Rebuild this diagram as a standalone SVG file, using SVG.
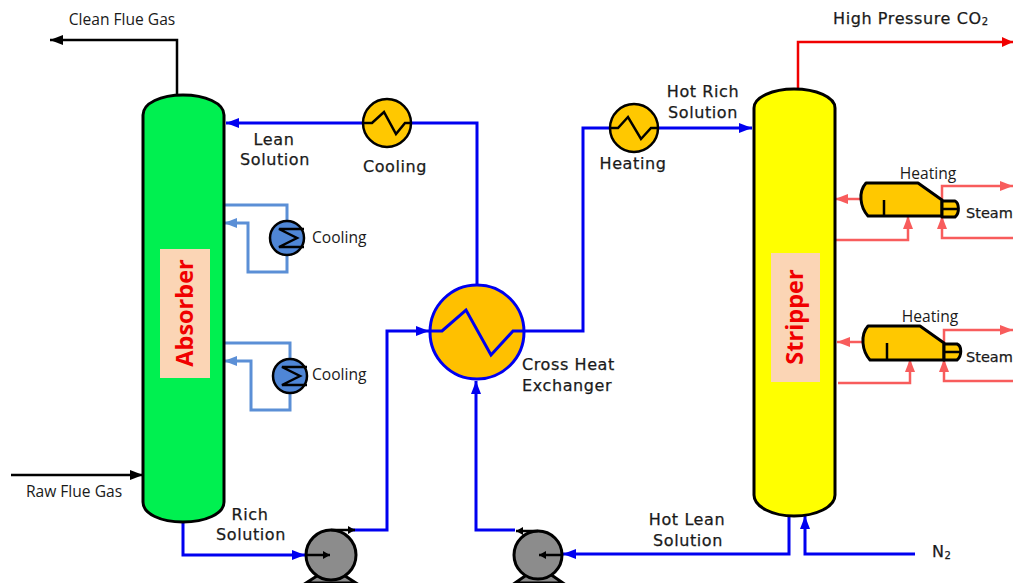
<svg xmlns="http://www.w3.org/2000/svg" width="1013" height="583" viewBox="0 0 1013 583">
<style>
text{font-family:"DejaVu Sans",Verdana,sans-serif;fill:#1a1a1a;font-size:16px;letter-spacing:.6px;stroke:#1a1a1a;stroke-width:.25}
.c{text-anchor:middle}
.k{fill:none;stroke:#000;stroke-width:2.5}
.b{fill:none;stroke:#0000f0;stroke-width:3}
.l{fill:none;stroke:#5b8fd6;stroke-width:3}
.p{fill:none;stroke:#f85c5c;stroke-width:2.5}
.r{fill:none;stroke:#f00000;stroke-width:2.5}
.tow{stroke:#000;stroke-width:3}
.sm{font-family:"Open Sans",sans-serif;font-size:15.6px;letter-spacing:0;stroke-width:0}
.st{font-size:14.5px;letter-spacing:0}
.lab{font-family:"Open Sans",sans-serif;font-size:23.5px;font-weight:700;letter-spacing:0;fill:#f00000;stroke-width:0}
.pump{fill:#8c8c8c;stroke:#000;stroke-width:3}
.boil{fill:#ffc800;stroke:#000;stroke-width:3;stroke-linejoin:round}
.cool{fill:#4f86d6;stroke:#000;stroke-width:2.5}
</style>
<defs>
<marker id="ak" markerUnits="userSpaceOnUse" markerWidth="14" markerHeight="12" refX="13" refY="5" orient="auto"><path d="M0 0L13 5L0 10Z" fill="#000"/></marker>
<marker id="as" markerUnits="userSpaceOnUse" markerWidth="8" markerHeight="8" refX="7" refY="4" orient="auto"><path d="M0 0L7 4L0 8Z" fill="#000"/></marker>
<marker id="ab" markerUnits="userSpaceOnUse" markerWidth="14" markerHeight="12" refX="13" refY="5" orient="auto"><path d="M0 0L13 5L0 10Z" fill="#0000f0"/></marker>
<marker id="al" markerUnits="userSpaceOnUse" markerWidth="14" markerHeight="12" refX="13" refY="5" orient="auto"><path d="M0 0L13 5L0 10Z" fill="#5b8fd6"/></marker>
<marker id="ap" markerUnits="userSpaceOnUse" markerWidth="14" markerHeight="12" refX="13" refY="5" orient="auto"><path d="M0 0L13 5L0 10Z" fill="#f85c5c"/></marker>
<marker id="ar" markerUnits="userSpaceOnUse" markerWidth="12" markerHeight="12" refX="11" refY="5" orient="auto"><path d="M0 0L11 5L0 10Z" fill="#f00000"/></marker>
</defs>
<rect width="1013" height="583" fill="#fff"/>
<g id="connectors">
<path class="k" d="M177 96V40H50" marker-end="url(#ak)"/>
<path class="k" d="M11 475H143" marker-end="url(#ak)"/>
<path class="b" d="M477 287V123H226" marker-end="url(#ab)"/>
<path class="b" d="M525 331H583V128H752" marker-end="url(#ab)"/>
<path class="b" d="M183 522V555H305" marker-end="url(#ab)"/>
<path class="b" d="M352 530H387V331H429" marker-end="url(#ab)"/>
<path class="b" d="M515 530H476V381" marker-end="url(#ab)"/>
<path class="b" d="M789 515V554H563" marker-end="url(#ab)"/>
<path class="b" d="M915 554H805V516" marker-end="url(#ab)"/>
<path class="r" d="M798 88V42H1013" marker-end="url(#ar)"/>
<path class="l" d="M224 205H287V222"/><path class="l" d="M287 255V272H248V223H224" marker-end="url(#al)"/>
<path class="l" d="M224 343H290V360"/><path class="l" d="M290 392V410H251V361H224" marker-end="url(#al)"/>
<path class="p" d="M860 199H835" marker-end="url(#ap)"/>
<path class="p" d="M836 240H908V216" marker-end="url(#ap)"/>
<path class="p" d="M942 201V186H1013" marker-end="url(#ap)"/>
<path class="p" d="M1013 238H942V216" marker-end="url(#ap)"/>
<path class="p" d="M862 342H837" marker-end="url(#ap)"/>
<path class="p" d="M838 383H910V359" marker-end="url(#ap)"/>
<path class="p" d="M944 344V330H1013" marker-end="url(#ap)"/>
<path class="p" d="M1013 381H944V359" marker-end="url(#ap)"/>
</g>
<g id="absorber">
<path class="tow" fill="#00f050" d="M143 115C143 103 161 95 183 95C205 95 224 103 224 115V502C224 514 205 522 183 522C161 522 143 514 143 502Z"/>
<rect x="160" y="249" width="50" height="129" fill="#fbd5b5"/>
<text class="lab" transform="translate(193 313) rotate(-90)" text-anchor="middle">Absorber</text>
</g>
<g id="stripper">
<path class="tow" fill="#ffff00" d="M754 108C754 97 773 89 794 89C816 89 835 97 835 108V495C835 507 816 516 794 516C773 516 754 507 754 495Z"/>
<rect x="771" y="253" width="49" height="129" fill="#fbd5b5"/>
<text class="lab" transform="translate(803 317) rotate(-90)" text-anchor="middle">Stripper</text>
</g>
<g id="cooling-lean">
<circle cx="387" cy="123" r="24" fill="#ffc800" stroke="#000" stroke-width="2.5"/>
<path class="k" d="M363 123H372L384 112L396 134L405 123H411"/>
</g>
<g id="heating-rich">
<circle cx="634" cy="128" r="24" fill="#ffc800" stroke="#000" stroke-width="2.5"/>
<path class="k" d="M610 128H618L628 117L641 139L651 128H658"/>
</g>
<g id="cross-heat-exchanger">
<circle cx="477" cy="332" r="47" fill="#ffc000" stroke="#0000f0" stroke-width="3"/>
<path class="b" d="M430 331H442L466 310L491 355L513 331H525"/>
</g>
<g id="cooler-1">
<circle class="cool" cx="287" cy="238" r="17"/>
<path class="k" d="M304 229H279L297 238L279 247H304" stroke-width="2"/>
</g>
<g id="cooler-2">
<circle class="cool" cx="290" cy="376" r="17"/>
<path class="k" d="M307 367H282L300 376L282 385H307" stroke-width="2"/>
</g>
<g id="boiler-1">
<path class="boil" d="M866 183H918L942 200V216H868C860 207 858 192 866 183Z"/>
<path class="boil" d="M942 201H955C959 203 960 213 955 217H942Z"/><path class="k" d="M942 209H958"/>
<path class="k" d="M884 200V216"/>
</g>
<g id="boiler-2">
<path class="boil" d="M868 326H920L944 343V360H870C862 351 860 335 868 326Z"/>
<path class="boil" d="M944 344H957C962 346 962 356 957 360H944Z"/><path class="k" d="M944 352H960"/>
<path class="k" d="M887 343V360"/>
</g>
<g id="pump-1">
<path class="pump" d="M306 583L320 574H342L356 583Z"/>
<circle class="pump" cx="331" cy="555" r="25"/>
<path class="k" d="M305 555H330" marker-end="url(#as)"/>
<path class="k" d="M331 530H355" marker-end="url(#as)"/>
</g>
<g id="pump-2">
<path class="pump" d="M515 583L528 574H550L563 583Z"/>
<circle class="pump" cx="538" cy="555" r="24"/>
<path class="k" d="M563 555H539" marker-end="url(#as)"/>
<path class="k" d="M538 531H516" marker-end="url(#as)"/>
</g>
<g id="labels">
<text class="sm c" x="122" y="25">Clean Flue Gas</text>
<text class="sm c" x="74" y="497">Raw Flue Gas</text>
<text class="c" x="274" y="145">Lean</text><text class="c" x="275" y="165">Solution</text>
<text class="c" x="395" y="172">Cooling</text>
<text class="sm" x="312" y="243">Cooling</text>
<text class="sm" x="312" y="380">Cooling</text>
<text class="c" x="250" y="520">Rich</text><text class="c" x="251" y="540">Solution</text>
<text x="522" y="370">Cross Heat</text><text x="522" y="391">Exchanger</text>
<text class="c" x="633" y="169">Heating</text>
<text class="c" x="703" y="97">Hot Rich</text><text class="c" x="703" y="118">Solution</text>
<text class="c" x="687" y="525">Hot Lean</text><text class="c" x="688" y="546">Solution</text>
<text x="932" y="557">N<tspan font-size="10" dy="2">2</tspan></text>
<text x="833" y="24">High Pressure CO<tspan font-size="10" dy="1">2</tspan></text>
<text class="sm c" x="928" y="179">Heating</text>
<text class="sm c" x="930" y="322">Heating</text>
<text class="st" x="966" y="218">Steam</text>
<text class="st" x="966" y="362">Steam</text>
</g>
</svg>
